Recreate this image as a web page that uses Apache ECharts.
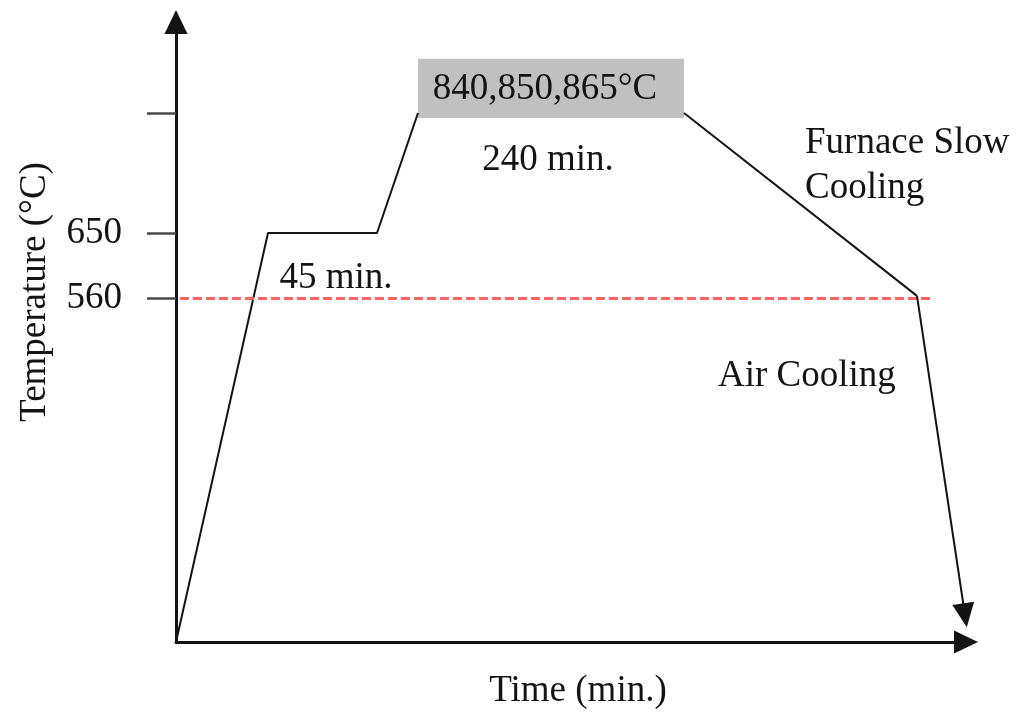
<!DOCTYPE html>
<html>
<head>
<meta charset="utf-8">
<title>Heat treatment schedule</title>
<script src="https://cdn.jsdelivr.net/npm/echarts@6/dist/echarts.min.js"></script>
<style>
  html, body { margin: 0; padding: 0; background: #fff; }
  #chart { width: 1024px; height: 722px; }
</style>
</head>
<body>
<div id="chart"></div>
<script>
// schematic time axis (not to scale) and temperature in °C
const heatTime = [0, 92, 201, 242];
const heatTemp = [84, 650, 650, 816];
const coolTime = [508, 741];
const coolTemp = [816, 563];
const airTime = [741, 789];
const airTemp = [563, 121];
const criticalTemp = 560;
const yTickValues = [816, 650, 560];
const yLabelValues = [650, 560];
const soakLabel = '840,850,865°C';
const noteLabels = ['240 min.', '45 min.', 'Furnace Slow\nCooling', 'Air Cooling'];

const FONT = "'Liberation Serif', 'Times New Roman', serif";
const FS = 37;
const INK = '#141414';

let chart = echarts.init(document.getElementById('chart'));

let textStyle = { fontFamily: FONT, fontSize: FS, color: INK };

let options = {
    animation: false,
    backgroundColor: '#fff',
    grid: { left: 176, right: 58, top: 22, bottom: 80 },
    xAxis: {
        type: 'value',
        min: 0,
        max: 790,
        name: 'Time (min.)',
        nameLocation: 'middle',
        nameGap: 31,
        nameTextStyle: Object.assign({}, textStyle, { padding: [0, 0, 0, 14] }),
        axisLine: {
            show: true,
            symbol: ['none', 'triangle'],
            symbolSize: [23, 24],
            lineStyle: { color: INK, width: 3 }
        },
        axisTick: { show: false },
        axisLabel: { show: false },
        splitLine: { show: false }
    },
    yAxis: {
        type: 'value',
        min: 84,
        max: 942,
        name: 'Temperature (°C)',
        nameLocation: 'middle',
        nameRotate: 90,
        nameGap: 122,
        nameTextStyle: Object.assign({}, textStyle, { padding: [0, 0, 0, 80] }),
        axisLine: {
            show: true,
            symbol: ['none', 'triangle'],
            symbolSize: [23, 24],
            lineStyle: { color: INK, width: 3 }
        },
        axisTick: {
            show: true,
            inside: false,
            length: 29,
            customValues: yTickValues,
            lineStyle: { color: '#4a4a4a', width: 2.5 }
        },
        axisLabel: {
            show: true,
            margin: 54,
            customValues: yLabelValues,
            fontFamily: FONT,
            fontSize: FS,
            color: INK,
            padding: [0, 0, 6, 0]
        },
        splitLine: { show: false }
    },
    series: [
        {
            // heating + 650 hold + ramp to austenitizing
            type: 'line',
            data: heatTime.map((t, i) => [t, heatTemp[i]]),
            symbol: 'none',
            silent: true,
            lineStyle: { color: INK, width: 2 },
            markLine: {
                silent: true,
                symbol: ['none', 'none'],
                label: { show: false },
                emphasis: { disabled: true },
                lineStyle: { color: '#ff6262', width: 3, type: [9, 4] },
                data: [[{ coord: [4, criticalTemp] }, { coord: [757, criticalTemp] }]]
            },
            markArea: {
                silent: true,
                itemStyle: { color: '#c0c0c0', opacity: 1 },
                label: {
                    show: true,
                    position: 'inside',
                    fontFamily: FONT,
                    fontSize: FS,
                    color: INK,
                    offset: [-6, 1]
                },
                emphasis: { disabled: true },
                data: [[{ name: soakLabel, coord: [242, 809] }, { coord: [508, 891] }]]
            },
            markPoint: {
                silent: true,
                symbol: 'rect',
                symbolSize: 0,
                itemStyle: { color: 'transparent' },
                label: {
                    show: true,
                    position: 'inside',
                    formatter: '{b}',
                    fontFamily: FONT,
                    fontSize: FS,
                    color: INK
                },
                emphasis: { disabled: true },
                data: [
                    { name: noteLabels[0], coord: [372, 750] },
                    { name: noteLabels[1], coord: [160, 588] },
                    { name: noteLabels[2], coord: [629, 743],
                      label: { position: 'right', distance: 0, align: 'left', lineHeight: 45 } },
                    { name: noteLabels[3], coord: [542, 452],
                      label: { position: 'right', distance: 0, align: 'left' } }
                ]
            }
        },
        {
            // furnace slow cooling to 560 then air cooling
            type: 'line',
            data: coolTime.map((t, i) => [t, coolTemp[i]]),
            symbol: 'none',
            silent: true,
            lineStyle: { color: INK, width: 2 },
            markLine: {
                silent: true,
                symbol: ['none', 'triangle'],
                symbolSize: [22, 24],
                label: { show: false },
                emphasis: { disabled: true },
                lineStyle: { color: INK, width: 2, type: 'solid' },
                data: [[{ coord: [airTime[0], airTemp[0]] }, { coord: [airTime[1], airTemp[1]] }]]
            }
        }
    ]
};

chart.setOption(options);
window.addEventListener('resize', () => { chart.resize(); });
</script>
</body>
</html>
